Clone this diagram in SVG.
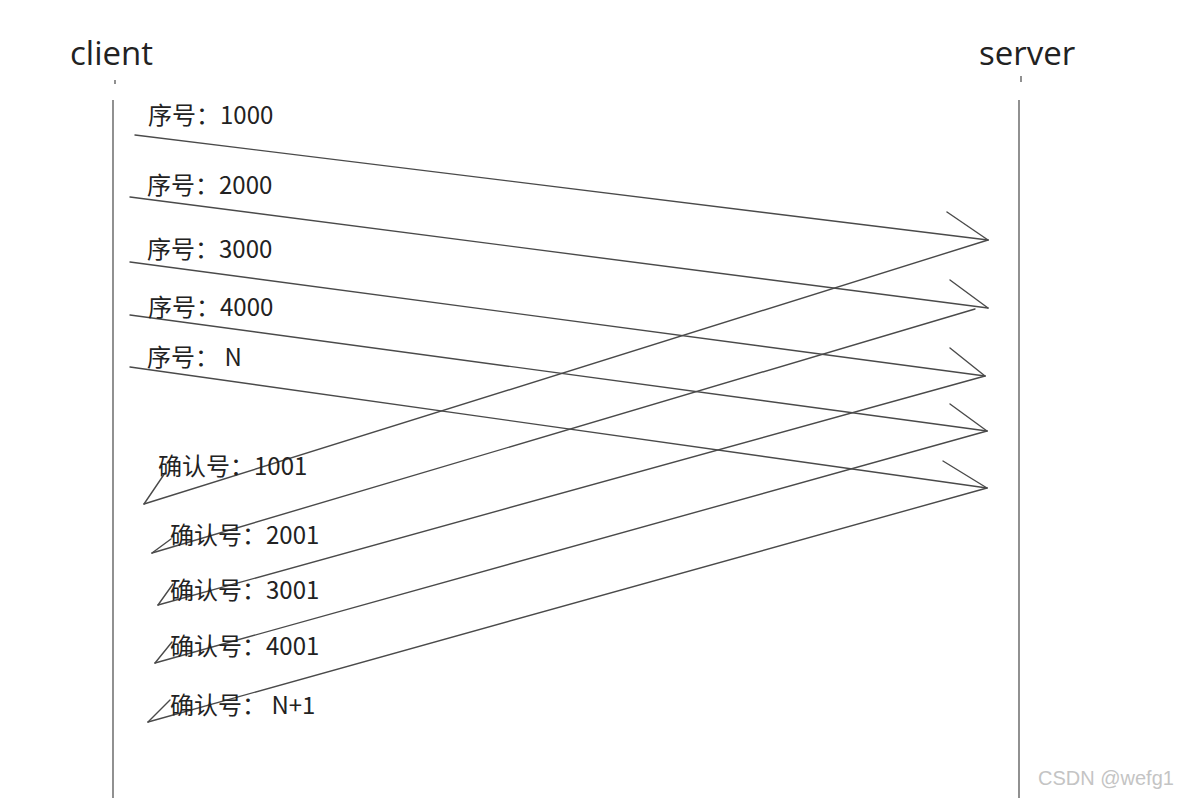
<svg xmlns="http://www.w3.org/2000/svg" width="1184" height="798" viewBox="0 0 1184 798">
<style>
.bg{fill:#ffffff}
.life{stroke:#555;stroke-width:1.3;fill:none}
.ln{stroke:#4a4a4a;stroke-width:1.4;fill:none;stroke-linecap:round}
.hd{font-family:"Open Sans","Noto Sans",sans-serif;font-size:33px;fill:#222}
.lb{font-family:"Noto Sans CJK SC","Noto Sans",sans-serif;font-size:24px;fill:#222}
.wm{font-family:"Liberation Sans",Arial,sans-serif;font-size:20px;fill:#c4c4c4}
</style>
<rect class="bg" x="0" y="0" width="1184" height="798"/>
<g id="client">
<text class="hd" x="70" y="65">client</text>
<line class="life" x1="115" y1="80" x2="115" y2="84"/>
<line class="life" x1="113" y1="100" x2="113" y2="798"/>
</g>
<g id="server">
<text class="hd" x="979" y="65">server</text>
<line class="life" x1="1021" y1="76" x2="1021" y2="82"/>
<line class="life" x1="1019" y1="100" x2="1019" y2="798"/>
</g>
<g id="connectors">
<line class="ln" x1="135" y1="135" x2="988" y2="240"/>
<line class="ln" x1="947" y1="212" x2="988" y2="240"/>
<line class="ln" x1="130" y1="197" x2="988" y2="308"/>
<line class="ln" x1="950" y1="280" x2="988" y2="308"/>
<line class="ln" x1="130" y1="262" x2="985" y2="376"/>
<line class="ln" x1="950" y1="348" x2="985" y2="376"/>
<line class="ln" x1="130" y1="315" x2="987" y2="431"/>
<line class="ln" x1="950" y1="404" x2="987" y2="431"/>
<line class="ln" x1="130" y1="367" x2="987" y2="488"/>
<line class="ln" x1="943" y1="461" x2="987" y2="488"/>
<line class="ln" x1="988" y1="240" x2="144" y2="504"/>
<line class="ln" x1="144" y1="504" x2="165" y2="473"/>
<line class="ln" x1="975" y1="309" x2="152" y2="553"/>
<line class="ln" x1="152" y1="553" x2="171" y2="539"/>
<line class="ln" x1="985" y1="376" x2="158" y2="605"/>
<line class="ln" x1="158" y1="605" x2="173" y2="584"/>
<line class="ln" x1="987" y1="431" x2="155" y2="663"/>
<line class="ln" x1="155" y1="663" x2="172" y2="642"/>
<line class="ln" x1="987" y1="488" x2="148" y2="722"/>
<line class="ln" x1="148" y1="722" x2="170" y2="700"/>
</g>
<g id="seq-labels">
<text class="lb" x="148" y="124">序号：1000</text>
<text class="lb" x="147" y="194">序号：2000</text>
<text class="lb" x="147" y="258">序号：3000</text>
<text class="lb" x="148" y="316">序号：4000</text>
<text class="lb" x="147" y="366">序号： N</text>
</g>
<g id="ack-labels">
<text class="lb" x="158" y="475">确认号：1001</text>
<text class="lb" x="170" y="544">确认号：2001</text>
<text class="lb" x="170" y="599">确认号：3001</text>
<text class="lb" x="170" y="655">确认号：4001</text>
<text class="lb" x="170" y="714">确认号： N+1</text>
</g>
<text class="wm" x="1038" y="785">CSDN @wefg1</text>
</svg>
